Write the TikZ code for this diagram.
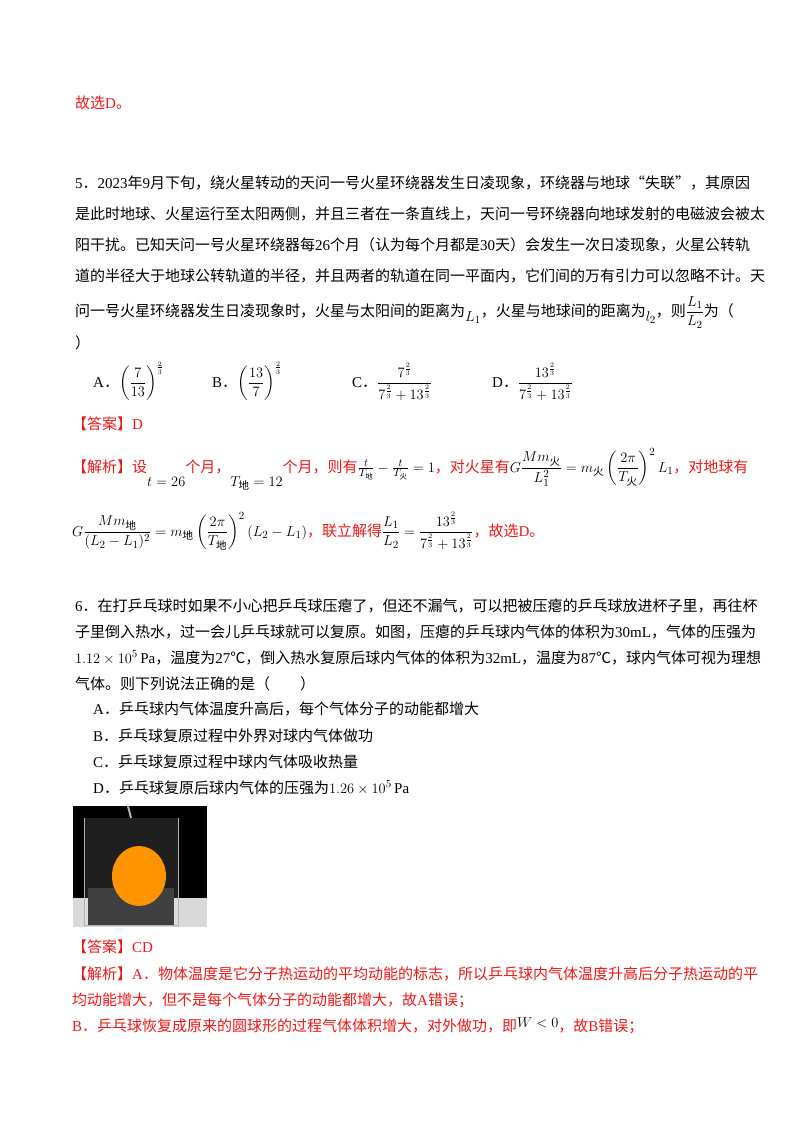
\documentclass[tikz,border=0pt]{standalone}
\usepackage{amsmath}
\usepackage{fontspec}
\setmainfont{Liberation Serif}
\newfontfamily\cjk{Noto Sans CJK SC}
\definecolor{myred}{RGB}{238,24,24}
\newcommand\lt[1]{{\rmfamily #1}}
\tikzset{ln/.style={anchor=base west,inner sep=0pt,font=\cjk\fontsize{15}{18}\selectfont},
 rd/.style={ln,text=myred}}
\begin{document}
\begin{tikzpicture}[x=1pt,y=-1pt]
\useasboundingbox[fill=white] (0,0) rectangle (800,1132);
\node[rd] (l0) at (75,108) {故选\lt{D}。};
\node[ln] (q1) at (75,188) {\lt{5}．\lt{2023}年\lt{9}月下旬，绕火星转动的天问一号火星环绕器发生日凌现象，环绕器与地球“失联”，其原因};
\node[ln] (q2) at (75,219) {是此时地球、火星运行至太阳两侧，并且三者在一条直线上，天问一号环绕器向地球发射的电磁波会被太};
\node[ln] (q3) at (75,250) {阳干扰。已知天问一号火星环绕器每\lt{26}个月（认为每个月都是\lt{30}天）会发生一次日凌现象，火星公转轨};
\node[ln] (q4) at (75,281) {道的半径大于地球公转轨道的半径，并且两者的轨道在同一平面内，它们间的万有引力可以忽略不计。天};
\node[ln] (q5) at (75,316) {问一号火星环绕器发生日凌现象时，火星与太阳间的距离为\raisebox{-5pt}{$L_1$}，火星与地球间的距离为\raisebox{-5pt}{$l_2$}，则$\dfrac{L_1}{L_2}$为（};
\node[ln] (q6) at (75,348) {）};
\node[ln] (oa) at (93,387) {\lt{A}．$\left(\dfrac{7}{13}\right)^{\frac23}$};
\node[ln] (ob) at (212,387) {\lt{B}．$\left(\dfrac{13}{7}\right)^{\frac23}$};
\node[ln] (oc) at (352,387) {\lt{C}．$\dfrac{7^{\frac23}}{7^{\frac23}+13^{\frac23}}$};
\node[ln] (od) at (492,387) {\lt{D}．$\dfrac{13^{\frac23}}{7^{\frac23}+13^{\frac23}}$};
\node[rd] (a1) at (72,429) {【答案】\lt{D}};
\node[rd] (j1) at (72,472) {【解析】设\raisebox{-14pt}{\color{black}$t=26$}个月，\raisebox{-14pt}{\color{black}$T_{\text{地}}=12$}个月，则有{\color{black}$\frac{t}{T_{\text{地}}}-\frac{t}{T_{\text{火}}}=1$}，对火星有{\color{black}$G\dfrac{Mm_{\text{火}}}{L_1^2}=m_{\text{火}}\left(\dfrac{2\pi}{T_{\text{火}}}\right)^2L_1$}，对地球有};
\node[rd] (j2) at (72,536) {{\color{black}$G\dfrac{Mm_{\text{地}}}{(L_2-L_1)^2}=m_{\text{地}}\left(\dfrac{2\pi}{T_{\text{地}}}\right)^2(L_2-L_1)$}，联立解得{\color{black}$\dfrac{L_1}{L_2}=\dfrac{13^{\frac23}}{7^{\frac23}+13^{\frac23}}$}，故选\lt{D}。};
\node[ln] (p1) at (75,611) {\lt{6}．在打乒乓球时如果不小心把乒乓球压瘪了，但还不漏气，可以把被压瘪的乒乓球放进杯子里，再往杯};
\node[ln] (p2) at (75,637) {子里倒入热水，过一会儿乒乓球就可以复原。如图，压瘪的乒乓球内气体的体积为\lt{30mL}，气体的压强为};
\node[ln] (p3) at (75,663) {$1.12\times10^5\,$\lt{Pa}，温度为\lt{27}℃，倒入热水复原后球内气体的体积为\lt{32mL}，温度为\lt{87}℃，球内气体可视为理想};
\node[ln] (p4) at (75,689) {气体。则下列说法正确的是（\qquad）};
\node[ln] (pa) at (93,714) {\lt{A}．乒乓球内气体温度升高后，每个气体分子的动能都增大};
\node[ln] (pb) at (93,741) {\lt{B}．乒乓球复原过程中外界对球内气体做功};
\node[ln] (pc) at (93,767) {\lt{C}．乒乓球复原过程中球内气体吸收热量};
\node[ln] (pd) at (93,793) {\lt{D}．乒乓球复原后球内气体的压强为$1.26\times10^5\,$\lt{Pa}};
% photo
\fill[black] (73,806) rectangle (207,927);
\fill[gray!30] (73,898) rectangle (207,927);
\fill[gray!30!black] (88,888) rectangle (174,925);
\fill[white,opacity=0.12] (84,818) rectangle (178,925);
\draw[gray!60,line width=1pt] (84,818) -- (84,925) -- (178,925) -- (178,818);
\fill[orange!85!yellow] (139,876) ellipse (27 and 30);
\draw[gray!60,line width=2pt] (128,806) -- (131,818);
\node[rd] (a2) at (72,952) {【答案】\lt{CD}};
\node[rd] (j3) at (72,979) {【解析】\lt{A}．物体温度是它分子热运动的平均动能的标志，所以乒乓球内气体温度升高后分子热运动的平};
\node[rd] (j4) at (72,1005) {均动能增大，但不是每个气体分子的动能都增大，故\lt{A}错误；};
\node[rd] (j5) at (72,1031) {\lt{B}．乒乓球恢复成原来的圆球形的过程气体体积增大，对外做功，即\raisebox{4pt}{\color{black}$W<0$}，故\lt{B}错误；};
\end{tikzpicture}
\end{document}
